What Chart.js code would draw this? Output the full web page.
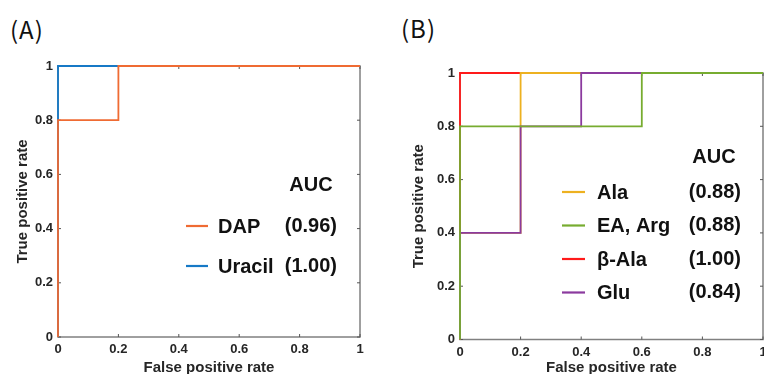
<!DOCTYPE html>
<html>
<head>
<meta charset="utf-8">
<script src="https://cdn.jsdelivr.net/npm/chart.js@4.4.1/dist/chart.umd.min.js"></script>
<style>
    body { margin: 0; background: #fff; }
    #wrap { position: relative; width: 764px; height: 374px; overflow: hidden; }
    canvas { position: absolute; top: 0; }
    .panel { position: absolute; font-family: "Noto Sans CJK JP", "Liberation Sans", sans-serif; font-size: 24px; letter-spacing: 1px; color: #111; line-height: 1; }
</style>
</head>
<body>
<div id="wrap">
    <div class="panel" style="left:10px; top:17px;">(A)</div>
    <div class="panel" style="left:401px; top:16px;">(B)</div>
    <canvas id="chartA" width="380" height="374" style="left:0px;"></canvas>
    <canvas id="chartB" width="384" height="374" style="left:380px;"></canvas>
</div>

<script>
    // tick values (both axes)
    var rateTicks = [0, 0.2, 0.4, 0.6, 0.8, 1];

    // (A) ROC curves
    var labelsA = ['DAP', 'Uracil'];
    var aucA = ['(0.96)', '(1.00)'];
    var dapFpr = [0, 0, 0.2, 0.2, 1];
    var dapTpr = [0, 0.8, 0.8, 1, 1];
    var uracilFpr = [0, 0, 1];
    var uracilTpr = [0, 1, 1];

    // (B) ROC curves
    var labelsB = ['Ala', 'EA, Arg', 'β-Ala', 'Glu'];
    var aucB = ['(0.88)', '(0.88)', '(1.00)', '(0.84)'];
    var alaFpr = [0, 0, 0.2, 0.2, 1];
    var alaTpr = [0, 0.4, 0.4, 1, 1];
    var eaArgFpr = [0, 0, 0.6, 0.6, 1];
    var eaArgTpr = [0, 0.8, 0.8, 1, 1];
    var bAlaFpr = [0, 0, 1];
    var bAlaTpr = [0, 1, 1];
    var gluFpr = [0, 0, 0.2, 0.2, 0.4, 0.4, 1];
    var gluTpr = [0, 0.4, 0.4, 0.8, 0.8, 1, 1];

    var tickColor = '#262626';
    var frameColor = '#808080';

    function toPoints(xs, ys) {
        var pts = [];
        for (var i = 0; i < xs.length; i++) {
            pts.push({ x: xs[i], y: ys[i] });
        }
        return pts;
    }

    function rocDataset(label, xs, ys, color, order) {
        return {
            label: label,
            data: toPoints(xs, ys),
            borderColor: color,
            backgroundColor: color,
            borderWidth: 1.8,
            pointRadius: 0,
            showLine: true,
            tension: 0,
            clip: 3,
            order: order
        };
    }

    // matlab-like box with inward ticks on all four sides
    var boxPlugin = {
        id: 'box',
        beforeDatasetsDraw: function (chart) {
            var ctx = chart.ctx;
            var a = chart.chartArea;
            var sx = chart.scales.x;
            var sy = chart.scales.y;
            ctx.save();
            ctx.strokeStyle = frameColor;
            ctx.lineWidth = 1.5;
            ctx.strokeRect(a.left, a.top, a.right - a.left, a.bottom - a.top);
            ctx.strokeStyle = '#555';
            ctx.lineWidth = 1;
            ctx.beginPath();
            for (var i = 0; i < rateTicks.length; i++) {
                var px = sx.getPixelForValue(rateTicks[i]);
                ctx.moveTo(px, a.bottom); ctx.lineTo(px, a.bottom - 3);
                ctx.moveTo(px, a.top); ctx.lineTo(px, a.top + 3);
                var py = sy.getPixelForValue(rateTicks[i]);
                ctx.moveTo(a.left, py); ctx.lineTo(a.left + 3, py);
                ctx.moveTo(a.right, py); ctx.lineTo(a.right - 3, py);
            }
            ctx.stroke();
            ctx.restore();
        }
    };

    // legend with an AUC column, drawn inside the axes
    var aucLegendPlugin = {
        id: 'aucLegend',
        afterDatasetsDraw: function (chart, args, opts) {
            var ctx = chart.ctx;
            var ds = chart.data.datasets;
            ctx.save();
            ctx.font = 'bold 20px "Liberation Sans", Arial, sans-serif';
            ctx.fillStyle = '#111';
            ctx.textBaseline = 'middle';
            ctx.textAlign = 'center';
            ctx.fillText('AUC', opts.headerX, opts.headerY);
            for (var i = 0; i < ds.length; i++) {
                var y = opts.rowY[i];
                ctx.strokeStyle = ds[i].borderColor;
                ctx.lineWidth = 2.2;
                ctx.beginPath();
                ctx.moveTo(opts.lineX0, y);
                ctx.lineTo(opts.lineX1, y);
                ctx.stroke();
                ctx.textAlign = 'left';
                ctx.fillText(ds[i].label, opts.textX, y + 1);
                ctx.textAlign = 'right';
                ctx.fillText(opts.values[i], opts.valueRight, y);
            }
            ctx.restore();
        }
    };

    function axisOptions(title, fitSize, horizontal, titlePad) {
        return {
            type: 'linear',
            min: 0,
            max: 1,
            afterFit: function (scale) {
                if (horizontal) { scale.height = fitSize; } else { scale.width = fitSize; }
                // no extra room for the end labels, the layout padding handles it
                scale.paddingLeft = 0;
                scale.paddingRight = 0;
                scale.paddingTop = 0;
                scale.paddingBottom = 0;
            },
            afterBuildTicks: function (scale) {
                scale.ticks = rateTicks.map(function (v) { return { value: v }; });
            },
            grid: { display: false, drawTicks: false },
            border: { display: false },
            ticks: {
                color: tickColor,
                font: { family: 'Liberation Sans', size: 13, weight: 'bold' },
                padding: 5,
                maxRotation: 0,
                autoSkip: false,
                callback: function (v) { return String(Math.round(v * 10) / 10); }
            },
            title: {
                display: true,
                text: title,
                color: tickColor,
                font: { family: 'Liberation Sans', size: 15, weight: 'bold' },
                padding: titlePad
            }
        };
    }

    function createGraphA() {
        var ctx = document.getElementById('chartA').getContext('2d');
        var chart = new Chart(ctx, {
            type: 'scatter',
            data: {
                datasets: [
                    rocDataset(labelsA[0], dapFpr, dapTpr, '#EF6B33', 0),
                    rocDataset(labelsA[1], uracilFpr, uracilTpr, '#1679C6', 1)
                ]
            },
            options: {
                responsive: false,
                animation: false,
                layout: { padding: { left: 0, right: 20, top: 66, bottom: 0 } },
                plugins: {
                    legend: { display: false },
                    tooltip: { enabled: false },
                    aucLegend: {
                        headerX: 311, headerY: 185,
                        rowY: [226, 266],
                        lineX0: 186, lineX1: 208,
                        textX: 218, valueRight: 337,
                        values: aucA
                    }
                },
                scales: {
                    x: axisOptions('False positive rate', 37, true, { top: 0, bottom: -3 }),
                    y: axisOptions('True positive rate', 58, false, { top: 14, bottom: 0 })
                }
            },
            plugins: [boxPlugin, aucLegendPlugin]
        });
    }

    function createGraphB() {
        var ctx = document.getElementById('chartB').getContext('2d');
        var chart = new Chart(ctx, {
            type: 'scatter',
            data: {
                datasets: [
                    rocDataset(labelsB[0], alaFpr, alaTpr, '#EDB120', 2),
                    rocDataset(labelsB[1], eaArgFpr, eaArgTpr, '#77AC30', 0),
                    rocDataset(labelsB[2], bAlaFpr, bAlaTpr, '#FF1A1A', 3),
                    rocDataset(labelsB[3], gluFpr, gluTpr, '#8B3A9E', 1)
                ]
            },
            options: {
                responsive: false,
                animation: false,
                layout: { padding: { left: 0, right: 1, top: 73, bottom: 0 } },
                plugins: {
                    legend: { display: false },
                    tooltip: { enabled: false },
                    aucLegend: {
                        headerX: 334, headerY: 157,
                        rowY: [192, 225.5, 259, 292.5],
                        lineX0: 182, lineX1: 205,
                        textX: 217, valueRight: 361,
                        values: aucB
                    }
                },
                scales: {
                    x: axisOptions('False positive rate', 34.5, true, { top: 0, bottom: -3 }),
                    y: axisOptions('True positive rate', 80, false, { top: 30, bottom: 0 })
                }
            },
            plugins: [boxPlugin, aucLegendPlugin]
        });
    }

    createGraphA();
    createGraphB();
</script>
</body>
</html>
